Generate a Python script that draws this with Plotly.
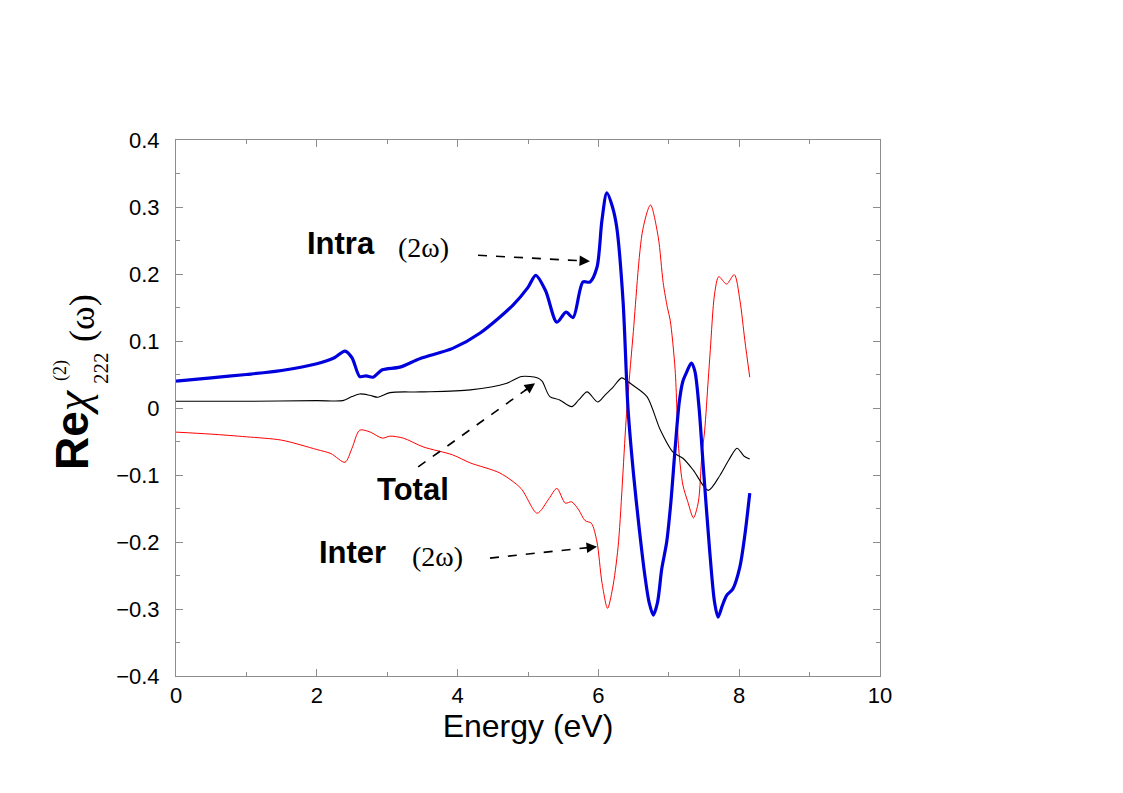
import plotly.graph_objects as go

# ---------------- data ----------------
intra_E = [0, 0.5, 1.0, 1.5, 2.0, 2.25, 2.4, 2.5, 2.61, 2.7, 2.8, 2.93, 3.18, 3.47, 3.93,
           4.32, 4.79, 5.0, 5.11, 5.25, 5.41, 5.54, 5.64, 5.78, 5.88, 5.98, 6.05, 6.12,
           6.2, 6.26, 6.35, 6.42, 6.5, 6.58, 6.66, 6.72, 6.78, 6.84, 6.9, 6.97, 7.03,
           7.09, 7.15, 7.2, 7.26, 7.32, 7.37, 7.43, 7.49, 7.58, 7.65, 7.7, 7.76, 7.82,
           7.91, 8.01, 8.08, 8.15]
intra_v = [0.040, 0.045, 0.050, 0.056, 0.066, 0.075, 0.085, 0.075, 0.047, 0.048, 0.046,
           0.057, 0.061, 0.074, 0.089, 0.112, 0.154, 0.180, 0.198, 0.175, 0.128, 0.143,
           0.135, 0.188, 0.188, 0.210, 0.280, 0.321, 0.300, 0.270, 0.160, 0.000, -0.100,
           -0.180, -0.250, -0.290, -0.309, -0.290, -0.240, -0.200, -0.140, -0.060, 0.010,
           0.040, 0.055, 0.067, 0.055, 0.000, -0.088, -0.212, -0.290, -0.312, -0.295,
           -0.280, -0.270, -0.237, -0.190, -0.127]

inter_E = [0, 0.5, 1.0, 1.5, 2.0, 2.2, 2.4, 2.5, 2.61, 2.76, 2.93, 3.04, 3.23, 3.51, 3.93,
           4.18, 4.6, 4.9, 5.13, 5.3, 5.41, 5.53, 5.62, 5.72, 5.81, 5.9, 5.98, 6.05, 6.13,
           6.2, 6.28, 6.4, 6.49, 6.63, 6.74, 6.85, 6.92, 6.98, 7.02, 7.09, 7.14, 7.2, 7.27,
           7.35, 7.42, 7.47, 7.51, 7.56, 7.59, 7.65, 7.71, 7.82, 7.93, 8.01, 8.08, 8.15]
inter_v = [-0.036, -0.039, -0.043, -0.048, -0.062, -0.068, -0.081, -0.060, -0.033, -0.036,
           -0.045, -0.042, -0.045, -0.058, -0.070, -0.082, -0.097, -0.120, -0.157, -0.135,
           -0.120, -0.142, -0.140, -0.152, -0.168, -0.172, -0.200, -0.260, -0.299, -0.270,
           -0.207, -0.008, 0.106, 0.266, 0.303, 0.255, 0.187, 0.150, 0.131, 0.057, -0.060,
           -0.115, -0.140, -0.164, -0.140, -0.070, -0.033, 0.042, 0.087, 0.170, 0.196,
           0.185, 0.199, 0.161, 0.101, 0.046]

total_E = [0, 1, 2, 2.37, 2.5, 2.61, 2.75, 2.87, 3.04, 3.47, 4.18, 4.7, 4.91, 5.13, 5.2,
           5.31, 5.45, 5.62, 5.72, 5.84, 5.99, 6.1, 6.2, 6.33, 6.41, 6.49, 6.69, 6.88, 7.06,
           7.2, 7.35, 7.56, 7.73, 7.85, 7.97, 8.07, 8.15]
total_v = [0.010, 0.010, 0.011, 0.011, 0.017, 0.021, 0.019, 0.016, 0.023, 0.024, 0.027,
           0.037, 0.047, 0.045, 0.040, 0.017, 0.012, 0.002, 0.012, 0.024, 0.009, 0.020,
           0.030, 0.045, 0.040, 0.034, 0.017, -0.033, -0.066, -0.075, -0.093, -0.123,
           -0.100, -0.078, -0.060, -0.072, -0.076]

x_ticks = [0, 2, 4, 6, 8, 10]
y_ticks = [-0.4, -0.3, -0.2, -0.1, 0, 0.1, 0.2, 0.3, 0.4]
y_ticklabels = ["\u22120.4", "\u22120.3", "\u22120.2", "\u22120.1", "0", "0.1", "0.2", "0.3", "0.4"]

SANS = "Liberation Sans, Arial, Helvetica, sans-serif"
SERIF = "Liberation Serif, Times New Roman, serif"

fig = go.Figure()
fig.add_trace(go.Scatter(x=inter_E, y=inter_v, mode="lines",
                         line=dict(color="#ff0000", width=1, shape="spline", smoothing=0.8)))
fig.add_trace(go.Scatter(x=total_E, y=total_v, mode="lines",
                         line=dict(color="#000000", width=1.1, shape="spline", smoothing=0.8)))
fig.add_trace(go.Scatter(x=intra_E, y=intra_v, mode="lines",
                         line=dict(color="#0000dd", width=3.2, shape="spline", smoothing=0.8)))

axis_common = dict(showgrid=False, zeroline=False, showline=True, linecolor="#8c8c8c",
                   linewidth=1, mirror="allticks", ticks="inside", ticklen=7,
                   tickcolor="#8c8c8c", tickwidth=1,
                   tickfont=dict(family=SANS, size=22, color="#000000"))

fig.update_xaxes(range=[0, 10], tickvals=x_ticks, ticktext=[str(t) for t in x_ticks],
                 minor=dict(dtick=1, tick0=0, ticks="inside", ticklen=4, tickcolor="#8c8c8c"),
                 title=dict(text="Energy (eV)", font=dict(family=SANS, size=32, color="#000"),
                            standoff=4),
                 **axis_common)
fig.update_yaxes(range=[-0.4, 0.4], tickvals=y_ticks, ticktext=y_ticklabels,
                 ticklabelstandoff=11,
                 minor=dict(dtick=0.05, tick0=0, ticks="inside", ticklen=4, tickcolor="#8c8c8c"),
                 **axis_common)

annotations = []
def txt(x, y, text, size, family, bold=False):
    t = f"<b>{text}</b>" if bold else text
    annotations.append(dict(x=x, y=y, xref="x", yref="y", text=t, showarrow=False,
                            font=dict(family=family, size=size, color="#000")))

txt(2.34, 0.246, "Intra", 31, SANS, bold=True)
txt(3.51, 0.239, "(2\u03c9)", 28, SERIF)
txt(3.37, -0.121, "Total", 31, SANS, bold=True)
txt(2.50, -0.215, "Inter", 31, SANS, bold=True)
txt(3.72, -0.221, "(2\u03c9)", 28, SERIF)

# dashed arrows: dashed shaft as shape + arrowhead annotation
arrows = [((4.29, 0.228), (5.88, 0.219)),
          ((3.44, -0.088), (5.10, 0.037)),
          ((4.46, -0.224), (5.98, -0.207))]
shapes = []
for (x0, y0), (x1, y1) in arrows:
    shapes.append(dict(type="line", xref="x", yref="y", x0=x0, y0=y0,
                       x1=x0 + (x1 - x0) * 0.93, y1=y0 + (y1 - y0) * 0.93,
                       line=dict(color="#000", width=1.6, dash="dash")))
    annotations.append(dict(x=x1, y=y1, ax=x0 + (x1 - x0) * 0.9, ay=y0 + (y1 - y0) * 0.9,
                            xref="x", yref="y", axref="x", ayref="y", text="",
                            showarrow=True, arrowhead=2, arrowsize=1.3, arrowwidth=1.6,
                            arrowcolor="#000"))

# y-axis title built from rotated pieces (paper coordinates; plot area is 176..880 x 140..676 on page)
def px2paper(px, py):
    return (px - 176) / 704.0, (676 - py) / 536.0

def ytitle(px, py, text, size, family):
    x, y = px2paper(px, py)
    annotations.append(dict(x=x, y=y, xref="paper", yref="paper", text=text,
                            showarrow=False, textangle=-90, xanchor="center",
                            yanchor="middle",
                            font=dict(family=family, size=size, color="#000")))

ytitle(72, 430, "<b>Re</b><span style='font-family:Liberation Serif'><i>\u03c7</i></span>", 46, SANS)
ytitle(60, 371, "(2)", 18, SERIF)
ytitle(101, 368, "222", 21, SERIF)
ytitle(82, 318, "(\u03c9)", 36, SERIF)

# the page body adds an 8px offset, so margins are reduced by 8 on left/top
fig.update_layout(width=1123, height=793,
                  margin=dict(l=168, r=251, t=132, b=125, autoexpand=False),
                  paper_bgcolor="white", plot_bgcolor="white", showlegend=False,
                  annotations=annotations, shapes=shapes)

fig.write_html("out.html")
